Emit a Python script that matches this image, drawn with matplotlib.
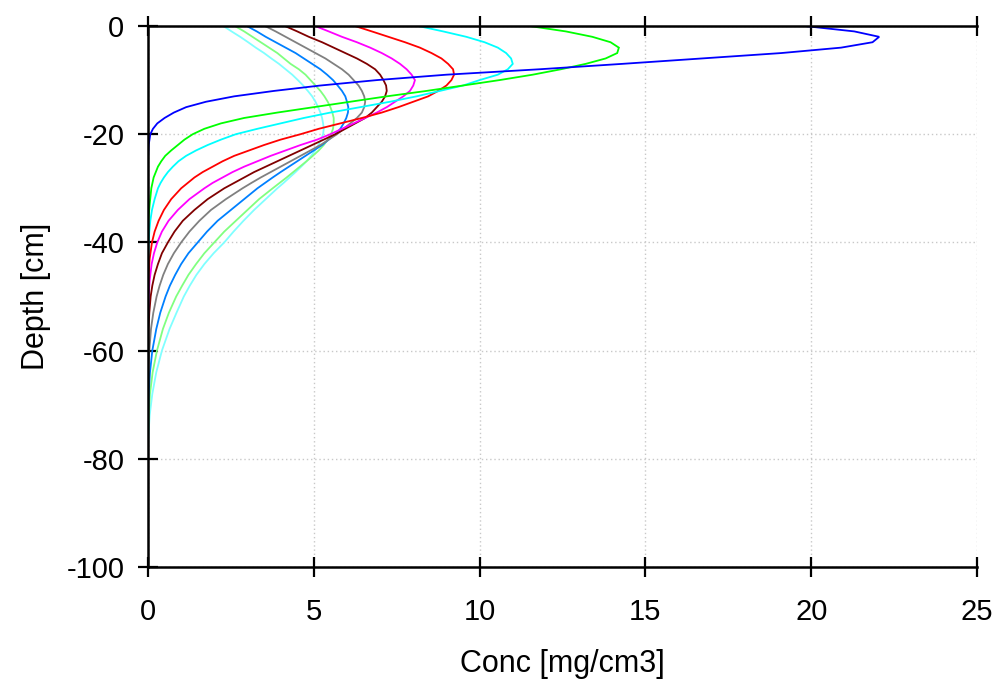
import matplotlib
matplotlib.use("Agg")
import matplotlib.pyplot as plt

plt.rcParams['font.family'] = ['Liberation Sans', 'DejaVu Sans']
plt.rcParams['axes.unicode_minus'] = False

# Concentration profiles (mg/cm3) versus depth (cm) at successive times
depth_blue = [0, -1, -2, -3, -4, -5, -6, -7, -8, -9, -10, -11, -12, -13, -14, -15,
              -16, -17, -18, -19, -20, -22, -24, -26, -30]
conc_blue = [19.8, 21.3, 22.05, 21.85, 20.9, 19.1, 16.7, 14.3, 11.8, 9.0, 6.9, 5.2,
             3.8, 2.6, 1.75, 1.15, 0.78, 0.5, 0.28, 0.15, 0.07, 0.02, 0.005, 0.0, 0.0]

depth_green = [0, -1, -2, -3, -4, -5, -6, -7, -8, -9, -10, -11, -12, -13, -14, -15,
               -16, -17, -18, -19, -20, -21, -22, -23, -24, -25, -26, -28, -30, -33,
               -36, -40]
conc_green = [11.5, 12.6, 13.4, 13.95, 14.2, 14.15, 13.8, 13.2, 12.45, 11.6, 10.6,
              9.5, 8.4, 7.2, 6.1, 5.0, 3.9, 2.9, 2.2, 1.7, 1.35, 1.1, 0.9, 0.7,
              0.52, 0.4, 0.3, 0.17, 0.1, 0.05, 0.01, 0.0]

depth_cyan = [0, -1, -2, -3, -4, -5, -6, -7, -8, -9, -10, -11, -12, -13, -14, -15,
              -16, -17, -18, -19, -20, -21, -22, -23, -24, -25, -26, -27, -28, -29,
              -30, -32, -34, -36, -38, -40, -44]
conc_cyan = [8.15, 8.9, 9.6, 10.15, 10.55, 10.8, 10.95, 11.0, 10.85, 10.55, 10.0,
             9.5, 8.8, 8.1, 7.3, 6.4, 5.5, 4.7, 4.0, 3.3, 2.65, 2.2, 1.8, 1.45, 1.15,
             0.92, 0.75, 0.6, 0.48, 0.38, 0.3, 0.2, 0.12, 0.07, 0.04, 0.02, 0.0]

depth_red = [0, -1, -2, -3, -4, -5, -6, -7, -8, -9, -10, -11, -12, -13, -14, -15,
             -16, -17, -18, -19, -20, -21, -22, -23, -24, -25, -26, -27, -28, -29,
             -30, -32, -34, -36, -38, -40, -43, -46, -50]
conc_red = [6.24, 6.75, 7.25, 7.75, 8.2, 8.55, 8.85, 9.05, 9.2, 9.23, 9.15, 9.0,
            8.75, 8.45, 8.0, 7.55, 7.05, 6.45, 5.8, 5.15, 4.6, 4.0, 3.5, 3.05, 2.6,
            2.25, 1.95, 1.65, 1.4, 1.2, 1.0, 0.7, 0.48, 0.32, 0.2, 0.12, 0.05,
            0.02, 0.0]

depth_magenta = [0, -1, -2, -3, -4, -5, -6, -7, -8, -9, -10, -11, -12, -13, -14,
                 -15, -16, -17, -18, -19, -20, -21, -22, -23, -24, -25, -26, -27,
                 -28, -29, -30, -32, -34, -36, -38, -40, -42, -44, -47, -50, -55]
conc_magenta = [5.04, 5.45, 5.85, 6.3, 6.7, 7.05, 7.35, 7.6, 7.8, 7.95, 8.05, 8.0,
                7.9, 7.7, 7.45, 7.2, 6.9, 6.55, 6.2, 5.85, 5.5, 5.1, 4.6, 4.15, 3.7,
                3.3, 2.9, 2.55, 2.25, 1.95, 1.7, 1.25, 0.9, 0.62, 0.42, 0.28, 0.18,
                0.11, 0.05, 0.02, 0.0]

depth_maroon = [0, -1, -2, -3, -4, -5, -6, -7, -8, -9, -10, -11, -12, -13, -14,
                -15, -16, -17, -18, -19, -20, -21, -22, -23, -24, -25, -26, -27,
                -28, -29, -30, -32, -34, -36, -38, -40, -42, -44, -46, -48, -50,
                -53, -56, -60]
conc_maroon = [4.13, 4.5, 4.85, 5.25, 5.6, 5.95, 6.3, 6.6, 6.85, 7.0, 7.1, 7.18,
               7.2, 7.15, 7.05, 6.9, 6.75, 6.55, 6.25, 5.95, 5.65, 5.3, 4.95, 4.6,
               4.25, 3.9, 3.55, 3.2, 2.9, 2.6, 2.3, 1.8, 1.4, 1.05, 0.8, 0.6, 0.42,
               0.3, 0.2, 0.13, 0.08, 0.04, 0.015, 0.0]

depth_gray = [0, -1, -2, -3, -4, -5, -6, -7, -8, -9, -10, -11, -12, -13, -14, -15,
              -16, -17, -18, -19, -20, -21, -22, -23, -24, -25, -26, -27, -28, -29,
              -30, -32, -34, -36, -38, -40, -42, -44, -46, -48, -50, -53, -56, -60,
              -64, -68]
conc_gray = [3.53, 3.85, 4.15, 4.45, 4.75, 5.05, 5.35, 5.6, 5.85, 6.05, 6.2, 6.35,
             6.45, 6.52, 6.55, 6.52, 6.45, 6.3, 6.1, 5.9, 5.7, 5.45, 5.2, 4.9, 4.6,
             4.3, 4.0, 3.7, 3.4, 3.12, 2.85, 2.35, 1.9, 1.55, 1.25, 1.0, 0.78, 0.6,
             0.46, 0.35, 0.26, 0.16, 0.09, 0.04, 0.01, 0.0]

depth_azure = [0, -1, -2, -3, -4, -5, -6, -7, -8, -9, -10, -11, -12, -13, -14, -15,
               -16, -17, -18, -19, -20, -21, -22, -23, -24, -25, -26, -27, -28, -29,
               -30, -32, -34, -36, -38, -40, -42, -44, -46, -48, -50, -53, -56, -60,
               -64, -68, -72]
conc_azure = [2.98, 3.28, 3.55, 3.85, 4.15, 4.45, 4.7, 4.95, 5.2, 5.4, 5.58, 5.72,
              5.85, 5.95, 6.0, 6.04, 6.03, 5.98, 5.9, 5.8, 5.65, 5.45, 5.25, 5.0,
              4.75, 4.5, 4.25, 4.0, 3.76, 3.53, 3.3, 2.9, 2.5, 2.1, 1.78, 1.5, 1.22,
              1.0, 0.82, 0.66, 0.53, 0.37, 0.25, 0.13, 0.06, 0.02, 0.0]

depth_lightgreen = [0, -1, -2, -3, -4, -5, -6, -7, -8, -9, -10, -11, -12, -13, -14,
                    -15, -16, -17, -18, -19, -20, -21, -22, -23, -24, -25, -26, -27,
                    -28, -29, -30, -32, -34, -36, -38, -40, -42, -44, -46, -48, -50,
                    -53, -56, -60, -64, -68, -72, -76]
conc_lightgreen = [2.62, 2.9, 3.15, 3.4, 3.65, 3.9, 4.1, 4.3, 4.55, 4.75, 4.9, 5.05,
                   5.2, 5.32, 5.42, 5.5, 5.56, 5.6, 5.6, 5.58, 5.52, 5.42, 5.3, 5.15,
                   4.97, 4.78, 4.58, 4.38, 4.18, 3.97, 3.76, 3.35, 3.0, 2.65, 2.3, 2.0,
                   1.7, 1.45, 1.22, 1.03, 0.85, 0.63, 0.45, 0.27, 0.14, 0.06, 0.02,
                   0.0]

depth_lightcyan = [0, -1, -2, -3, -4, -5, -6, -7, -8, -9, -10, -11, -12, -13, -14,
                   -15, -16, -17, -18, -19, -20, -21, -22, -23, -24, -25, -26, -27,
                   -28, -29, -30, -32, -34, -36, -38, -40, -42, -44, -46, -48, -50,
                   -53, -56, -60, -64, -68, -72, -76, -80]
conc_lightcyan = [2.27, 2.52, 2.78, 3.02, 3.25, 3.5, 3.72, 3.95, 4.15, 4.35, 4.52,
                  4.68, 4.82, 4.95, 5.05, 5.13, 5.2, 5.25, 5.28, 5.3, 5.28, 5.22,
                  5.14, 5.04, 4.92, 4.78, 4.62, 4.45, 4.27, 4.09, 3.9, 3.55, 3.2, 2.88,
                  2.58, 2.3, 1.98, 1.7, 1.46, 1.26, 1.08, 0.86, 0.65, 0.42, 0.25,
                  0.13, 0.05, 0.01, 0.0]

profiles = [
    (conc_blue, depth_blue, "#0000ff"),
    (conc_green, depth_green, "#00ff00"),
    (conc_cyan, depth_cyan, "#00ffff"),
    (conc_red, depth_red, "#ff0000"),
    (conc_magenta, depth_magenta, "#ff00ff"),
    (conc_maroon, depth_maroon, "#800000"),
    (conc_gray, depth_gray, "#808080"),
    (conc_azure, depth_azure, "#0080ff"),
    (conc_lightgreen, depth_lightgreen, "#80ff80"),
    (conc_lightcyan, depth_lightcyan, "#80ffff"),
]

x_ticks = [0, 5, 10, 15, 20, 25]
y_ticks = [0, -20, -40, -60, -80, -100]

fig = plt.figure(figsize=(9.95, 6.81), dpi=100)
ax = fig.add_axes([148 / 995, 1 - 567 / 681, (977 - 148) / 995, (567 - 26) / 681])

for conc, depth, color in reversed(profiles):
    ax.plot(conc, depth, color=color, lw=1.3, solid_joinstyle="miter")

ax.set_xlim(0, 25)
ax.set_ylim(-100, 0)
ax.set_xticks(x_ticks)
ax.set_yticks(y_ticks)
ax.grid(True, color="#c8c8c8", linestyle=(0, (1, 2)), linewidth=1.0)

for side in ("left", "top", "bottom"):
    ax.spines[side].set_linewidth(1.8)
    ax.spines[side].set_color("black")
ax.spines["right"].set_visible(False)

ax.tick_params(axis="both", which="major", direction="inout", length=14,
               width=1.6, color="black", labelsize=21)
ax.tick_params(axis="x", top=True, pad=15)
ax.tick_params(axis="y", pad=10)

ax.set_xlabel("Conc [mg/cm3]", fontsize=22, labelpad=17)
ax.set_ylabel("Depth [cm]", fontsize=22, labelpad=11)

fig.savefig("out.png", dpi=100)
